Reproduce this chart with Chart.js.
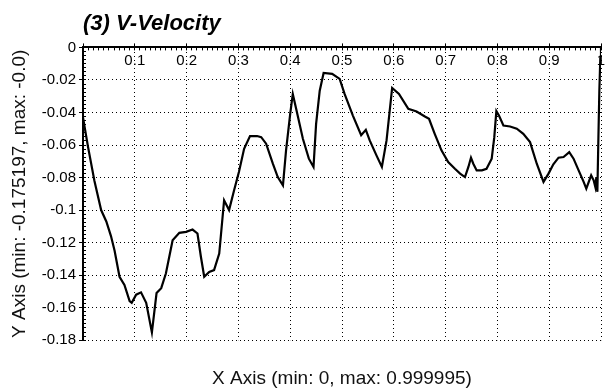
<!DOCTYPE html>
<html>
<head>
<meta charset="utf-8">
<title>V-Velocity</title>
<script src="https://cdn.jsdelivr.net/npm/chart.js@4.4.1/dist/chart.umd.min.js"></script>
<style>
  html, body { margin: 0; padding: 0; background: #fff; }
  #wrap { width: 605px; height: 390px; }
</style>
</head>
<body>
<div id="wrap"><canvas id="vChart" width="605" height="390"></canvas></div>
<script>
// x positions and V-velocity values
var xValues = [
  0.000, 0.0096, 0.022, 0.035, 0.045, 0.054, 0.061, 0.0705, 0.080, 0.090,
  0.094, 0.1026, 0.112, 0.122, 0.133, 0.142, 0.151, 0.160, 0.173, 0.186,
  0.199, 0.2115, 0.221, 0.2276, 0.234, 0.2436, 0.253, 0.263, 0.2724, 0.282,
  0.2917, 0.301, 0.311, 0.3224, 0.336, 0.344, 0.3535, 0.3665, 0.376, 0.386,
  0.392, 0.400, 0.405, 0.4116, 0.4245, 0.436, 0.445, 0.450, 0.457, 0.4645,
  0.481, 0.4955, 0.505, 0.521, 0.537, 0.546, 0.5535, 0.5665, 0.577, 0.586,
  0.5968, 0.610, 0.628, 0.644, 0.660, 0.668, 0.679, 0.692, 0.705, 0.718,
  0.728, 0.7374, 0.744, 0.749, 0.7535, 0.760, 0.770, 0.779, 0.789, 0.794,
  0.798, 0.803, 0.8116, 0.8245, 0.8374, 0.850, 0.863, 0.876, 0.889, 0.8987,
  0.908, 0.918, 0.9277, 0.9387, 0.947, 0.9568, 0.9665, 0.9716, 0.981, 0.9858,
  0.989, 0.991, 0.993, 0.995, 0.9968, 0.9987, 0.999995
];
var vValues = [
  -0.043, -0.061, -0.082, -0.100, -0.107, -0.116, -0.125, -0.141, -0.146, -0.156,
  -0.157, -0.152, -0.1506, -0.157, -0.1752, -0.151, -0.148, -0.139, -0.1185, -0.114,
  -0.1134, -0.112, -0.1144, -0.1287, -0.141, -0.138, -0.1369, -0.1267, -0.094, -0.100,
  -0.0878, -0.0766, -0.0623, -0.0545, -0.0545, -0.0552, -0.0592, -0.0715, -0.0797, -0.0848,
  -0.0633, -0.0409, -0.0286, -0.0378, -0.0562, -0.0684, -0.0735, -0.047, -0.0266, -0.0157,
  -0.0163, -0.0194, -0.0286, -0.0419, -0.054, -0.0507, -0.0572, -0.0664, -0.0735, -0.0572,
  -0.0249, -0.0286, -0.0378, -0.0394, -0.0425, -0.0439, -0.0531, -0.0633, -0.0705, -0.0746,
  -0.0776, -0.0797, -0.0735, -0.0678, -0.0715, -0.0756, -0.0756, -0.0746, -0.0684, -0.0552,
  -0.0392, -0.0419, -0.048, -0.0486, -0.050, -0.0531, -0.0582, -0.0715, -0.0827, -0.0776,
  -0.0719, -0.0678, -0.0674, -0.0644, -0.0684, -0.0756, -0.0827, -0.0868, -0.0786, -0.0817,
  -0.0858, -0.0797, -0.0888, -0.0552, -0.0266, -0.0061, -0.0
];

// tick positions and labels
var xTickVals = [0, 0.1, 0.2, 0.3, 0.4, 0.5, 0.6, 0.7, 0.8, 0.9, 1];
var xTickLabels = ['', '0.1', '0.2', '0.3', '0.4', '0.5', '0.6', '0.7', '0.8', '0.9', '1'];
var yTickVals = [-0.18, -0.16, -0.14, -0.12, -0.1, -0.08, -0.06, -0.04, -0.02, 0];
var yTickLabels = ['-0.18', '-0.16', '-0.14', '-0.12', '-0.1', '-0.08', '-0.06', '-0.04', '-0.02', '0'];

var points = xValues.map(function (x, i) { return { x: x, y: vValues[i] }; });

var ctx = document.getElementById('vChart').getContext('2d');
var myChart = new Chart(ctx, {
  type: 'line',
  data: {
    datasets: [{
      data: points,
      borderColor: '#000',
      borderWidth: 2.2,
      pointRadius: 0,
      tension: 0,
      fill: false
    }]
  },
  options: {
    responsive: false,
    animation: false,
    layout: { padding: { left: 0, right: 4, top: 0, bottom: 0 } },
    plugins: {
      legend: { display: false },
      tooltip: { enabled: false },
      title: {
        display: true,
        text: '(3) V-Velocity',
        align: 'start',
        fullSize: false,
        color: '#000',
        font: { family: 'Liberation Sans, Arial, sans-serif', size: 22, style: 'italic', weight: 'bold' },
        padding: { top: 11, bottom: 6 }
      },
      subtitle: {
        display: true,
        position: 'bottom',
        text: 'X Axis (min: 0, max: 0.999995)',
        fullSize: false,
        color: '#111',
        font: { family: 'Liberation Sans, Arial, sans-serif', size: 19 },
        padding: { top: 27, bottom: 0 }
      }
    },
    scales: {
      x: {
        type: 'linear',
        position: 'top',
        weight: 1,
        min: 0,
        max: 1,
        afterBuildTicks: function (scale) {
          scale.ticks = xTickVals.map(function (v) { return { value: v }; });
        },
        afterFit: function (scale) {
          scale.height = 4;
          scale.paddingLeft = 0;
          scale.paddingRight = 0;
        },
        ticks: {
          autoSkip: false,
          maxRotation: 0,
          mirror: true,
          padding: 4,
          color: '#000',
          font: { family: 'Liberation Sans, Arial, sans-serif', size: 15 },
          callback: function (v, i) { return xTickLabels[i]; }
        },
        grid: { color: '#000', lineWidth: 1, tickLength: 4, drawTicks: true },
        border: { display: true, color: '#000', width: 2, dash: [1, 3] }
      },
      xMinor: {
        type: 'linear',
        position: 'top',
        weight: 0,
        min: 0,
        max: 1,
        afterFit: function (scale) { scale.height = 0; },
        ticks: { display: false, stepSize: 0.01 },
        grid: { drawOnChartArea: false, color: '#000', tickLength: -3 },
        border: { display: false }
      },
      y: {
        type: 'linear',
        position: 'left',
        weight: 1,
        min: -0.18,
        max: 0,
        afterBuildTicks: function (scale) {
          scale.ticks = yTickVals.map(function (v) { return { value: v }; });
        },
        afterFit: function (scale) {
          scale.width = 83;
          scale.paddingTop = 0;
          scale.paddingBottom = 0;
        },
        ticks: {
          autoSkip: false,
          padding: 3,
          color: '#000',
          font: { family: 'Liberation Sans, Arial, sans-serif', size: 15 },
          callback: function (v, i) { return yTickLabels[i]; }
        },
        title: {
          display: true,
          text: 'Y Axis (min: -0.175197, max: -0.0)',
          color: '#111',
          font: { family: 'Liberation Sans, Arial, sans-serif', size: 19 },
          padding: { top: 8, bottom: 0 }
        },
        grid: { color: '#000', lineWidth: 1, tickLength: 4, drawTicks: true },
        border: { display: true, color: '#000', width: 2, dash: [1, 3] }
      },
      yMinor: {
        type: 'linear',
        position: 'left',
        weight: 0,
        min: -0.18,
        max: 0,
        afterFit: function (scale) { scale.width = 0; },
        ticks: { display: false, stepSize: 0.0025 },
        grid: { drawOnChartArea: false, color: '#000', tickLength: -3 },
        border: { display: false }
      }
    }
  }
});
</script>
</body>
</html>
